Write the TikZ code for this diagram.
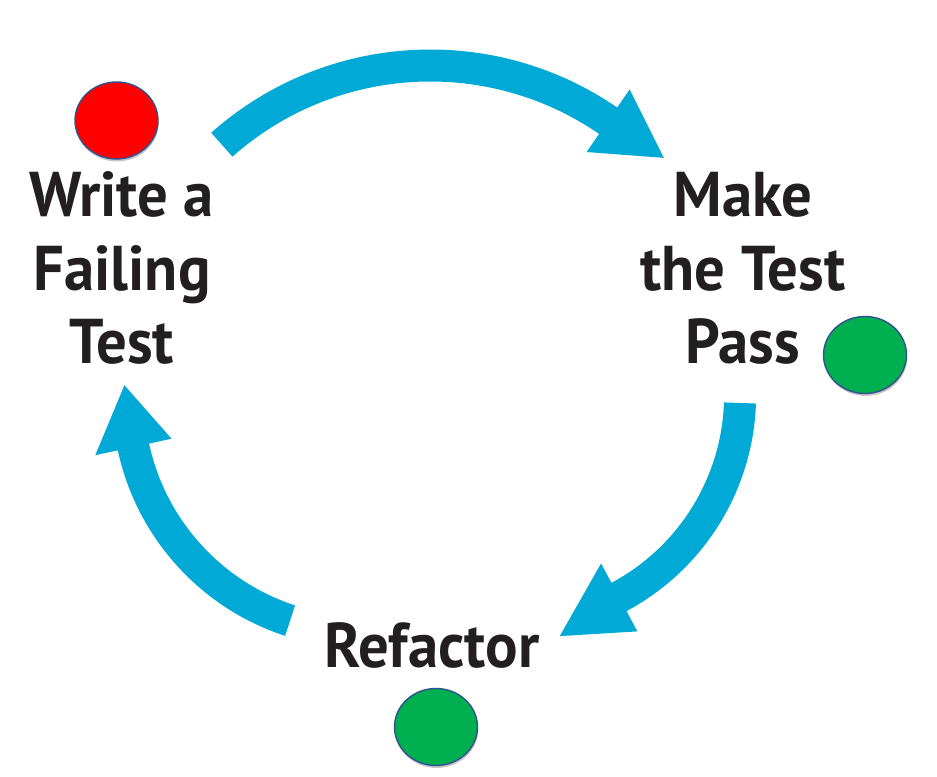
\documentclass[tikz,border=0pt]{standalone}
\usepackage{fontspec}
\setmainfont{PT Sans}[FakeStretch=0.96]
\usetikzlibrary{shapes.geometric,shadows}

\definecolor{cyclecyan}{RGB}{0,169,214}
\definecolor{labelink}{RGB}{35,31,32}
\definecolor{dotred}{RGB}{255,0,0}
\definecolor{dotgreen}{RGB}{0,176,80}
\definecolor{dotrim}{RGB}{47,82,143}

\begin{document}
\begin{tikzpicture}[
    x=0.02cm, y=0.02cm,
    steplabel/.style={font=\fontsize{36}{42}\selectfont\bfseries, text=labelink, align=center, anchor=base, inner sep=0pt},
    statusdot/.style={ellipse, draw=dotrim, line width=0.8pt, minimum width=1.66cm, minimum height=1.54cm, inner sep=0pt,
        drop shadow={shadow xshift=0.4pt, shadow yshift=-1.4pt, fill=black!50, opacity=0.45}},
    cyclearrow/.style={fill=cyclecyan}
]
    \useasboundingbox[fill=white] (0,0) rectangle (937,777);

    % Centres of the three arrow arcs
    \coordinate (ctop) at (430.3,397.5);
    \coordinate (cright) at (511.1,382);
    \coordinate (cleft) at (363.1,379.7);

    % Step labels (base = last line)
    \node[steplabel] (write) at (122,413) {Write a\\Failing\\Test};
    \node[steplabel] (pass) at (743,413) {Make\\the Test\\Pass};
    \node[steplabel] (refactor) at (432,109) {Refactor};

    % Status dots
    \node[statusdot, fill=dotred] (dotwrite) at (116.5,656.5) {};
    \node[statusdot, fill=dotgreen] (dotpass) at (865,422) {};
    \node[statusdot, fill=dotgreen] (dotrefactor) at (436,50) {};

    % Write -> Pass
    \fill[cyclearrow] ([shift={(131.6:330)}]ctop) arc[start angle=131.6, end angle=55.5, radius=330]
        -- ([shift={(55.5:352)}]ctop) -- ([shift={(43.5:322)}]ctop) -- ([shift={(55.5:276)}]ctop)
        -- ([shift={(55.5:298)}]ctop) arc[start angle=55.5, end angle=131.6, radius=298] -- cycle;

    % Pass -> Refactor
    \fill[cyclearrow] ([shift={(-2:245)}]cright) arc[start angle=-2, end angle=-61.9, radius=245]
        -- ([shift={(-61.9:268)}]cright) -- ([shift={(-78.6:246)}]cright) -- ([shift={(-61.9:191)}]cright)
        -- ([shift={(-61.9:213)}]cright) arc[start angle=-61.9, end angle=-2, radius=213] -- cycle;

    % Refactor -> Write
    \fill[cyclearrow] ([shift={(251.9:251)}]cleft) arc[start angle=251.9, end angle=192.2, radius=251]
        -- ([shift={(192.2:274)}]cleft) -- ([shift={(177.1:239)}]cleft) -- ([shift={(192.2:196)}]cleft)
        -- ([shift={(192.2:219)}]cleft) arc[start angle=192.2, end angle=251.9, radius=219] -- cycle;

\end{tikzpicture}
\end{document}
